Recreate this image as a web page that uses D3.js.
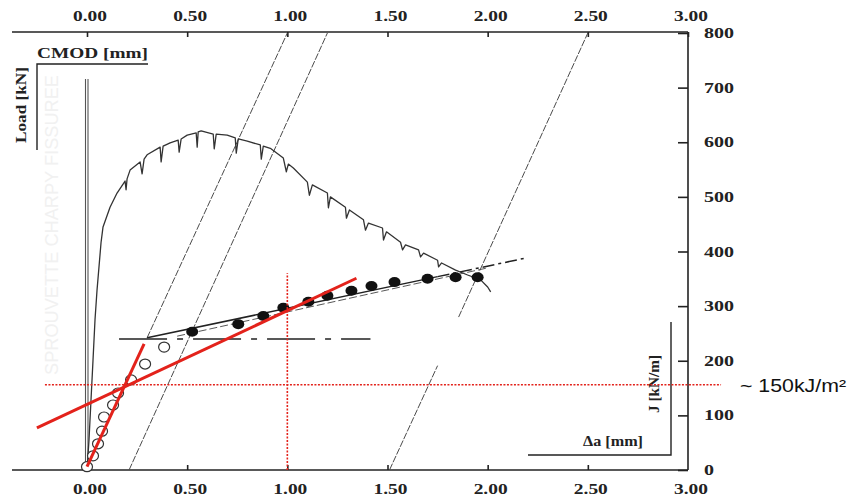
<!DOCTYPE html>
<html><head><meta charset="utf-8">
<script src="https://cdn.jsdelivr.net/npm/d3@7"></script>
<style>html,body{margin:0;padding:0;background:#fff;} svg{display:block;}</style>
</head><body>
<script>
// ---------- DATA ----------
const xTicks = [0, 0.5, 1, 1.5, 2, 2.5, 3];
const xTickLabels = ["0.00", "0.50", "1.00", "1.50", "2.00", "2.50", "3.00"];
const jTicks = [0, 100, 200, 300, 400, 500, 600, 700, 800];
const jTickLabels = ["0", "100", "200", "300", "400", "500", "600", "700", "800"];

// Load vs CMOD record (with unloading spikes)
const cmod = [0, 0.01, 0.02, 0.03, 0.04, 0.05, 0.07, 0.08, 0.115, 0.15, 0.19, 0.195, 0.20, 0.215, 0.265, 0.275, 0.285, 0.30,
  0.365, 0.37, 0.38, 0.415, 0.455, 0.46, 0.47, 0.50, 0.545, 0.55, 0.555, 0.57, 0.63, 0.635, 0.645, 0.70, 0.74, 0.745, 0.755,
  0.80, 0.865, 0.87, 0.88, 0.915, 0.98, 0.995, 1.005, 1.03, 1.10, 1.11, 1.125, 1.20, 1.205, 1.215, 1.29, 1.295, 1.31,
  1.38, 1.39, 1.405, 1.475, 1.48, 1.495, 1.565, 1.575, 1.59, 1.655, 1.665, 1.68, 1.75, 1.755, 1.77, 1.84, 1.90, 1.965, 2.00, 2.015];
const load = [0, 55, 128, 201, 275, 329, 416, 445, 481, 507, 529, 513, 533, 549, 564, 542, 569, 577,
  591, 564, 593, 599, 604, 582, 606, 613, 617, 591, 619, 621, 615, 588, 615, 613, 608, 580, 606,
  602, 595, 569, 593, 589, 571, 546, 560, 553, 527, 503, 522, 507, 480, 500, 481, 461, 476,
  458, 439, 452, 443, 421, 436, 417, 403, 412, 403, 390, 397, 384, 372, 379, 366, 357, 348, 335, 326];

// J - delta a points
const daOpen = [0.0, 0.03, 0.055, 0.075, 0.085, 0.13, 0.155, 0.22, 0.29, 0.385];
const jOpen  = [6, 26, 48, 71, 97, 119, 141, 165, 194, 225];
const daFilled = [0.525, 0.755, 0.88, 0.98, 1.105, 1.20, 1.32, 1.42, 1.535, 1.70, 1.84, 1.95];
const jFilled  = [253, 267, 282, 297, 308, 319, 328, 337, 344, 350, 353, 353];

// construction lines (delta a, J)
const fitDa = [0.30, 1.75, 2.19];
const fitJ  = [242, 354, 388];
const fit2Da = [0.45, 2.0];
const fit2J  = [245, 370];
const bluntDa = [0.30, 1.0];      const bluntJ = [242, 800];
const offset02Da = [0.21, 1.2];   const offset02J = [0, 800];
const offset15aDa = [1.51, 1.75]; const offset15aJ = [0, 191];
const offset15bDa = [1.855, 2.5]; const offset15bJ = [280, 800];
const jMinDa = [0.16, 1.415];     const jMinJ = [240, 240];
const cmodAxisLoad = [0, 716];

// red annotation lines
const red1Da = [0.0, 0.285];  const red1J = [6, 231];
const red2Da = [-0.25, 1.345]; const red2J = [77, 351];
const redHJ = 156;  const redHDa = [-0.21, 3.165];
const redVDa = 1.0; const redVJ = [0, 360];
const annotation = "~ 150kJ/m²";

// ---------- DRAW ----------
const W = 849, H = 498;
const svg = d3.select("body").append("svg").attr("width", W).attr("height", H);

const x = d3.scaleLinear().domain([0, 3]).range([87, 688]);
const y = d3.scaleLinear().domain([0, 800]).range([470, 33]);

const serif = "'Liberation Serif','Times New Roman',serif";
const ink = "#222";

// faint watermark
svg.append("text")
  .attr("transform", `translate(58,225) rotate(-90)`)
  .attr("text-anchor", "middle")
  .attr("font-family", "'Liberation Sans',Arial,sans-serif")
  .attr("font-size", 19)
  .attr("fill", "#f1f1f1")
  .attr("textLength", 300).attr("lengthAdjust", "spacingAndGlyphs")
  .text("SPROUVETTE CHARPY FISSUREE");

// axes
const gTop = svg.append("g").attr("transform", `translate(0,${y(800) - 1})`)
  .call(d3.axisTop(x).tickValues(xTicks).tickSize(-5).tickFormat(""));
const gBot = svg.append("g").attr("transform", `translate(0,${y(0)})`)
  .call(d3.axisBottom(x).tickValues(xTicks.slice(1, -1)).tickSize(-5).tickFormat(""));
const gRight = svg.append("g").attr("transform", `translate(${x(3)},0)`)
  .call(d3.axisRight(y).tickValues(jTicks).tickSize(-10).tickFormat(""));
[gTop, gBot, gRight].forEach(g => {
  g.selectAll("path.domain").remove();
  g.selectAll("line").attr("stroke", ink).attr("stroke-width", 1.6);
});
// axis lines
svg.append("line").attr("x1", 12).attr("x2", x(3)).attr("y1", y(800) - 1).attr("y2", y(800) - 1).attr("stroke", ink).attr("stroke-width", 1.6);
svg.append("line").attr("x1", 12).attr("x2", x(3)).attr("y1", y(0)).attr("y2", y(0)).attr("stroke", ink).attr("stroke-width", 1.6);
svg.append("line").attr("x1", x(3)).attr("x2", x(3)).attr("y1", y(800) - 1).attr("y2", y(0)).attr("stroke", ink).attr("stroke-width", 1.6);

// tick labels
function tlab(g, txt, px, py, anchor, len) {
  g.append("text").attr("x", px).attr("y", py).attr("text-anchor", anchor)
    .attr("font-family", serif).attr("font-weight", "bold").attr("font-size", 15).attr("fill", ink)
    .attr("textLength", len).attr("lengthAdjust", "spacingAndGlyphs").text(txt);
}
const labG = svg.append("g");
xTicks.forEach((v, i) => {
  tlab(labG, xTickLabels[i], x(v) + 3, 21, "middle", 34);
  tlab(labG, xTickLabels[i], x(v) + 3, 494, "middle", 34);
});
jTicks.forEach((v, i) => {
  tlab(labG, jTickLabels[i], 704, y(v) + 5, "start", jTickLabels[i].length * 10);
});

// inner label frames
svg.append("path").attr("d", "M37,150 V64 H148").attr("fill", "none").attr("stroke", ink).attr("stroke-width", 1.4);
svg.append("path").attr("d", "M528,455 H671 V322").attr("fill", "none").attr("stroke", ink).attr("stroke-width", 1.4);
svg.append("text").attr("x", 37).attr("y", 58).attr("font-family", serif).attr("font-weight", "bold")
  .attr("font-size", 15).attr("fill", ink).attr("textLength", 111).attr("lengthAdjust", "spacingAndGlyphs").text("CMOD [mm]");
svg.append("text").attr("transform", "translate(26,105) rotate(-90)").attr("text-anchor", "middle")
  .attr("font-family", serif).attr("font-weight", "bold").attr("font-size", 15).attr("fill", ink)
  .attr("textLength", 76).attr("lengthAdjust", "spacingAndGlyphs").text("Load [kN]");
svg.append("text").attr("x", 583).attr("y", 446).attr("font-family", serif).attr("font-weight", "bold")
  .attr("font-size", 14).attr("fill", ink).attr("textLength", 60).attr("lengthAdjust", "spacingAndGlyphs").text("Δa [mm]");
svg.append("text").attr("transform", "translate(659,384) rotate(-90)").attr("text-anchor", "middle")
  .attr("font-family", serif).attr("font-weight", "bold").attr("font-size", 14).attr("fill", ink)
  .attr("textLength", 58).attr("lengthAdjust", "spacingAndGlyphs").text("J [kN/m]");

// CMOD zero axis (double line)
[-1.5, 1].forEach(dx => {
  svg.append("line").attr("x1", x(0) + dx).attr("x2", x(0) + dx)
    .attr("y1", y(cmodAxisLoad[1])).attr("y2", y(cmodAxisLoad[0]))
    .attr("stroke", "#555").attr("stroke-width", 1.1);
});

const line = d3.line().x(d => x(d[0])).y(d => y(d[1]));
const zip = (a, b) => a.map((v, i) => [v, b[i]]);

function path(da, jj, color, w, dash) {
  const p = svg.append("path").attr("d", line(zip(da, jj))).attr("fill", "none")
    .attr("stroke", color).attr("stroke-width", w);
  if (dash) p.attr("stroke-dasharray", dash);
  return p;
}

// construction lines
path(bluntDa, bluntJ, "#4a4a4a", 1, "7,1.5");
path(offset02Da, offset02J, "#4a4a4a", 1, "7,1.5");
path(offset15aDa, offset15aJ, "#4a4a4a", 1, "7,1.5");
path(offset15bDa, offset15bJ, "#4a4a4a", 1, "7,1.5");
path(jMinDa, jMinJ, ink, 1.5, "48,10,6,10");

// load curve
path(cmod, load, "#333", 1.3, null).attr("stroke-linejoin", "round");

// fit lines
path(fitDa.slice(0, 2), fitJ.slice(0, 2), ink, 1.5, null);
path(fitDa.slice(1), fitJ.slice(1), ink, 1.5, "12,4,3,4");
path(fit2Da, fit2J, "#444", 0.9, "8,3");

// points
svg.append("g").selectAll("ellipse").data(zip(daOpen, jOpen)).join("ellipse")
  .attr("cx", d => x(d[0])).attr("cy", d => y(d[1])).attr("rx", 5.5).attr("ry", 5)
  .attr("fill", "#fff").attr("stroke", "#333").attr("stroke-width", 1.2);
svg.append("g").selectAll("ellipse").data(zip(daFilled, jFilled)).join("ellipse")
  .attr("cx", d => x(d[0])).attr("cy", d => y(d[1])).attr("rx", 6).attr("ry", 5)
  .attr("fill", "#111");

// red annotations
const red = "#e3221b";
path(redHDa, [redHJ, redHJ], red, 1.6, "2,1.5");
path([redVDa, redVDa], redVJ, red, 1.6, "2,1.5");
path(red1Da, red1J, red, 3, null);
path(red2Da, red2J, red, 3, null);

svg.append("text").attr("x", 740).attr("y", 392)
  .attr("font-family", "'Liberation Sans',Arial,sans-serif").attr("font-size", 18).attr("fill", "#111")
  .attr("textLength", 106).attr("lengthAdjust", "spacingAndGlyphs").text(annotation);
</script>
</body></html>
